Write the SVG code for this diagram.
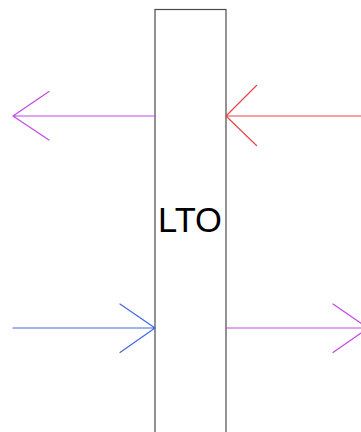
<svg xmlns="http://www.w3.org/2000/svg" width="361" height="432" viewBox="0 0 361 432">
  <style>
    .box { fill: #ffffff; stroke: #4a4a4a; stroke-width: 1.2; }
    .lbl { font-family: "Liberation Sans", Arial, sans-serif; font-size: 34.5px; fill: #000000; text-anchor: middle; }
    .wire { fill: none; stroke-width: 1.2; stroke-linecap: round; stroke-linejoin: round; }
    .violet { stroke: #c04ae6; }
    .red { stroke: #e34848; }
    .blue { stroke: #3f68e0; }
  </style>
  <rect width="361" height="432" fill="#ffffff"/>
  <g id="lto">
    <rect class="box" x="155" y="9.5" width="71" height="440"/>
    <text class="lbl" x="190" y="231.5">LTO</text>
  </g>
  <g id="connectors">
    <!-- output, left side -->
    <path class="wire violet" d="M155 116 H13 M49 91.5 L13 116 L49 140"/>
    <!-- input, right side -->
    <path class="wire red" d="M361 116 H226 M256.5 85.5 L226 116 L256.5 145.5"/>
    <!-- input, left side -->
    <path class="wire blue" d="M13 328 H155 M120 304 L155 328 L120 352.5"/>
    <!-- output, right side -->
    <path class="wire violet" d="M226 328 H368 M333 304 L368 328 L333 352.5"/>
  </g>
</svg>
